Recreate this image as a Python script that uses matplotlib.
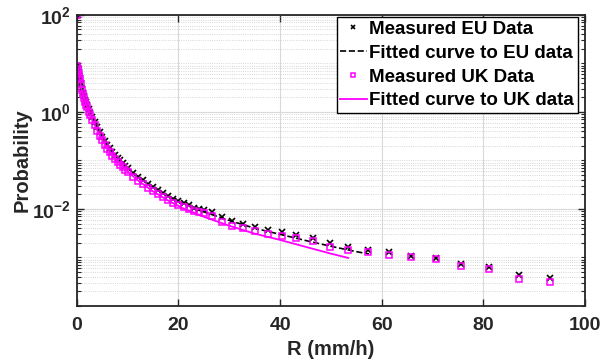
import matplotlib.pyplot as plt
import numpy as np
from matplotlib.ticker import FixedLocator, FuncFormatter, LogLocator, NullFormatter

plt.rcParams["font.family"] = ["Liberation Sans", "DejaVu Sans"]
plt.rcParams["font.weight"] = "bold"
plt.rcParams["mathtext.fontset"] = "custom"
plt.rcParams["mathtext.rm"] = "Liberation Sans:bold"
plt.rcParams["mathtext.bf"] = "Liberation Sans:bold"

# Rain rate bins (mm/h) shared by both measured sets
rain_rate = [
    0, 0.1, 0.2, 0.3, 0.4, 0.5, 0.6, 0.8, 1.0, 1.2, 1.4, 1.6, 1.8, 2.0, 2.3,
    2.6, 3.0, 3.5, 4.0, 4.5, 5.0, 5.5, 6.0, 6.5, 7.0, 7.5, 8.0, 8.5, 9.0, 9.5,
    10, 11, 12, 13, 14, 15, 16, 17, 18, 19, 20, 21, 22, 23, 24, 25, 26.5,
    28.5, 30.6, 32.7, 35.0, 37.7, 40.4, 43.2, 46.5, 49.8, 53.4, 57.3, 61.4,
    65.8, 70.6, 75.6, 81.1, 87.0, 93.2,
]

# Exceedance probability (%) of the measured data
eu_prob = [
    100, 8.9, 8.0, 7.2, 6.5, 5.6, 5.0, 4.0, 3.0, 2.5, 2.1, 1.8, 1.6, 1.4, 1.15,
    0.97, 0.80, 0.62, 0.48, 0.38, 0.31, 0.25, 0.21, 0.18, 0.15, 0.13, 0.115,
    0.100, 0.087, 0.077, 0.069, 0.056, 0.046, 0.039, 0.033, 0.028, 0.0245,
    0.0215, 0.0187, 0.0163, 0.0145, 0.0130, 0.0118, 0.0107, 0.0100, 0.0093,
    0.0086, 0.0068, 0.0056, 0.0049, 0.0042, 0.0037, 0.0033, 0.0029, 0.0025,
    0.00196, 0.00167, 0.00143, 0.00128, 0.00109, 0.00096, 0.00073, 0.00063,
    0.00044, 0.00037,
]
uk_prob = [
    100, 8.7, 7.7, 6.9, 6.1, 5.3, 4.7, 3.7, 2.8, 2.3, 1.9, 1.6, 1.4, 1.25, 1.02,
    0.85, 0.69, 0.53, 0.41, 0.32, 0.26, 0.21, 0.175, 0.148, 0.126, 0.108,
    0.094, 0.082, 0.072, 0.064, 0.057, 0.046, 0.038, 0.032, 0.027, 0.023,
    0.020, 0.0175, 0.0153, 0.0135, 0.0120, 0.0108, 0.0098, 0.0090, 0.0086,
    0.0082, 0.0073, 0.0053, 0.0045, 0.0040, 0.00347, 0.00305, 0.00282,
    0.00249, 0.00222, 0.00162, 0.00143, 0.00128, 0.00113, 0.00104, 0.00093,
    0.00066, 0.00058, 0.00036, 0.00031,
]

# Fitted curves, sampled
eu_fit_r = [0.1, 0.5, 1, 1.5, 2, 3, 4, 5, 6, 8, 10, 12, 15, 18, 21, 25, 30,
            35, 40, 45, 50, 55, 57.5]
eu_fit_p = [8.9, 5.25, 2.95, 2.0, 1.41, 0.79, 0.48, 0.31, 0.21, 0.115, 0.071,
            0.047, 0.028, 0.018, 0.0126, 0.0087, 0.0058, 0.0040, 0.0030,
            0.00224, 0.0017, 0.00132, 0.00118]
uk_fit_r = [0.1, 0.5, 1, 1.5, 2, 3, 4, 5, 6, 8, 10, 12, 15, 18, 21, 25, 30,
            35, 40, 45, 50, 53.4]
uk_fit_p = [8.9, 5.0, 2.75, 1.82, 1.26, 0.69, 0.42, 0.26, 0.178, 0.095, 0.059,
            0.039, 0.023, 0.0148, 0.0102, 0.0069, 0.0045, 0.0031, 0.0023,
            0.00166, 0.0012, 0.00098]

fig = plt.figure(figsize=(6.1, 3.63), dpi=100)
ax = fig.add_axes([0.126, 0.157, 0.833, 0.802])

ax.plot(rain_rate, eu_prob, "x", color="black", ms=5, mew=1.2,
        label="Measured EU Data")
ax.plot(eu_fit_r, eu_fit_p, "--", color="black", lw=1.2,
        label="Fitted curve to EU data")
ax.plot(rain_rate, uk_prob, "s", color="magenta", mfc="none", ms=4.5, mew=1.1,
        label="Measured UK Data")
ax.plot(uk_fit_r, uk_fit_p, "-", color="magenta", lw=1.3,
        label="Fitted curve to UK data")

ax.set_yscale("log")
ax.set_xlim(0, 100)
ax.set_ylim(1e-4, 1e2)
ax.set_xticks([0, 20, 40, 60, 80, 100])
ax.yaxis.set_major_locator(FixedLocator([1e-2, 1e0, 1e2]))
ax.yaxis.set_major_formatter(
    FuncFormatter(lambda v, _: r"$\mathbf{10^{%d}}$" % round(np.log10(v))))
ax.yaxis.set_minor_locator(LogLocator(base=10, subs=np.arange(1, 10), numticks=20))
ax.yaxis.set_minor_formatter(NullFormatter())

ax.grid(True, which="major", color="#d9d9d9", lw=0.8, ls="-")
ax.grid(True, which="minor", axis="y", color="#c8c8c8", lw=0.6, ls=":")
ax.set_axisbelow(True)

ax.tick_params(which="both", direction="in", top=True, right=True,
               colors="#262626", labelsize=14)
ax.tick_params(which="major", length=5, width=1)
ax.tick_params(which="minor", length=3, width=0.8)
ax.tick_params(axis="x", which="major", pad=8)
ax.tick_params(axis="y", which="major", pad=4)
for sp in ax.spines.values():
    sp.set_linewidth(1.3)
    sp.set_color("#262626")

ax.set_xlabel("R (mm/h)", fontsize=14.5, fontweight="bold", color="#262626")
ax.set_ylabel("Probability", fontsize=14.5, fontweight="bold", color="#262626")
ax.xaxis.set_label_coords(0.5, -0.117)
ax.yaxis.set_label_coords(-0.09, 0.5)

leg = ax.legend(loc="upper right", bbox_to_anchor=(0.986, 0.993),
                borderaxespad=0, fontsize=13.5, frameon=True, fancybox=False,
                edgecolor="black", framealpha=1, handlelength=1.4,
                handletextpad=0.15, borderpad=0.2, labelspacing=0.36,
                markerscale=0.7)
leg.get_frame().set_linewidth(1.0)

fig.savefig("out.png", dpi=100)
